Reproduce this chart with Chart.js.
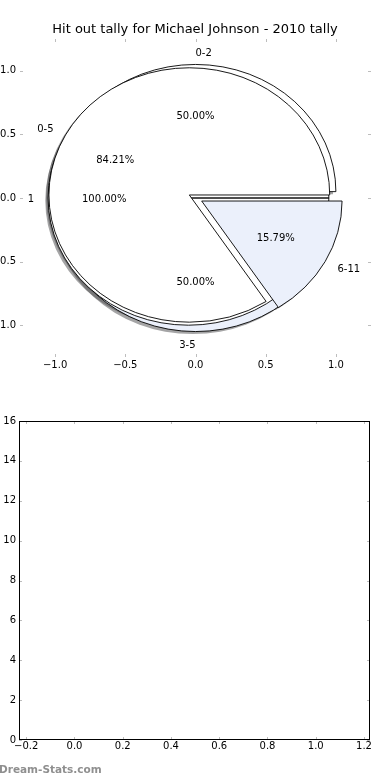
<!DOCTYPE html>
<html>
<head>
<meta charset="utf-8">
<script src="https://cdn.jsdelivr.net/npm/chart.js@4.4.1/dist/chart.umd.min.js"></script>
<style>
html, body { margin: 0; padding: 0; background: #fff; }
#wrap { position: relative; width: 390px; height: 780px; overflow: hidden; }
canvas { position: absolute; left: 0; }
#pieChart { top: 0; }
#emptyChart { top: 390px; }
#mark { position: absolute; left: -1px; top: 763px; font: bold 10.5px "DejaVu Sans"; color: #8f8f8f; }
</style>
</head>
<body>
<div id="wrap">
  <canvas id="pieChart" width="390" height="390"></canvas>
  <canvas id="emptyChart" width="390" height="390"></canvas>
  <div id="mark">Dream-Stats.com</div>
</div>
<script>
// Data

const chartTitle = 'Hit out tally for Michael Johnson - 2010 tally';

// three pies drawn on top of each other, listed in drawing order
const pieALabels = ['0-2', '3-5'];
const pieAValues = [50, 50];
const pieCLabels = ['1'];
const pieCValues = [100];
const pieBLabels = ['0-5', '6-11'];
const pieBValues = [84.21, 15.79];

const pieTicks = [-1.0, -0.5, 0.0, 0.5, 1.0];
const lowerXTicks = [-0.2, 0.0, 0.2, 0.4, 0.6, 0.8, 1.0, 1.2];
const lowerYTicks = [0, 2, 4, 6, 8, 10, 12, 14, 16];

const wedgeColors = ['#ffffff', '#ebf0fb'];
const explode = 0.05;

Chart.defaults.font.family = 'DejaVu Sans';
Chart.defaults.font.size = 10;
Chart.defaults.color = '#000';

function minusSign(v, digits) {
    return v.toFixed(digits).replace('-', '\u2212');
}

function useTicks(list) {
    return function(scale) {
        scale.ticks = list.map(v => ({ value: v }));
    };
}

// grey tick marks pointing into the plot, on all four sides (matplotlib look)
const innerTicks = {
    id: 'innerTicks',
    afterDraw(chart, args, opts) {
        const ctx = chart.ctx;
        const a = chart.chartArea;
        const xs = chart.scales.x, ys = chart.scales.y;
        ctx.save();
        ctx.strokeStyle = '#bdbdbd';
        ctx.lineWidth = 1;
        ctx.beginPath();
        xs.ticks.forEach(t => {
            const px = Math.round(xs.getPixelForValue(t.value)) + 0.5;
            ctx.moveTo(px, a.top); ctx.lineTo(px, a.top + 3);
            ctx.moveTo(px, a.bottom); ctx.lineTo(px, a.bottom - 3);
        });
        ys.ticks.forEach(t => {
            const py = Math.round(ys.getPixelForValue(t.value)) + 0.5;
            ctx.moveTo(a.left, py); ctx.lineTo(a.left + 3, py);
            ctx.moveTo(a.right, py); ctx.lineTo(a.right - 3, py);
        });
        ctx.stroke();
        if (opts.frame) {
            ctx.strokeStyle = '#000';
            ctx.strokeRect(a.left + 0.5, a.top + 0.5, a.right - a.left - 1, a.bottom - a.top - 1);
        }
        ctx.restore();
    }
};

// the pies, drawn through the x/y scales so the ellipse follows the axes
const overlaidPies = {
    id: 'overlaidPies',
    afterDatasetsDraw(chart) {
        const ctx = chart.ctx;
        const xs = chart.scales.x, ys = chart.scales.y;
        const pies = [
            { labels: pieALabels, values: pieAValues },
            { labels: pieCLabels, values: pieCValues },
            { labels: pieBLabels, values: pieBValues }
        ];
        const wedges = [];
        const texts = [];
        pies.forEach(pie => {
            const total = pie.values.reduce((s, v) => s + v, 0);
            let theta1 = 0;
            pie.values.forEach((v, i) => {
                const frac = v / total;
                const theta2 = theta1 + frac;
                const thetam = 2 * Math.PI * 0.5 * (theta1 + theta2);
                const cx = explode * Math.cos(thetam);
                const cy = explode * Math.sin(thetam);
                wedges.push({ cx, cy, t1: theta1 * 2 * Math.PI, t2: theta2 * 2 * Math.PI, color: wedgeColors[i % wedgeColors.length] });
                const xt = cx + 1.1 * Math.cos(thetam);
                texts.push({ x: xt, y: cy + 1.1 * Math.sin(thetam), s: pie.labels[i], align: xt > 0 ? 'left' : 'right' });
                texts.push({ x: cx + 0.6 * Math.cos(thetam), y: cy + 0.6 * Math.sin(thetam), s: (100 * frac).toFixed(2) + '%', align: 'center' });
                theta1 = theta2;
            });
        });

        const rx = xs.getPixelForValue(1) - xs.getPixelForValue(0);
        const ry = ys.getPixelForValue(0) - ys.getPixelForValue(1);
        const path = (w, dx, dy) => {
            const px = xs.getPixelForValue(w.cx + dx), py = ys.getPixelForValue(w.cy + dy);
            ctx.beginPath();
            ctx.moveTo(px, py);
            ctx.ellipse(px, py, rx, ry, 0, -w.t1, -w.t2, true);
            ctx.closePath();
        };

        ctx.save();
        // shadows sit underneath every wedge
        wedges.forEach(w => {
            path(w, -0.02, -0.02);
            ctx.fillStyle = 'rgba(75, 76, 78, 0.5)';
            ctx.fill();
        });
        wedges.forEach(w => {
            path(w, 0, 0);
            ctx.fillStyle = w.color;
            ctx.fill();
            ctx.strokeStyle = '#000';
            ctx.lineWidth = 0.9;
            ctx.stroke();
        });
        ctx.fillStyle = '#000';
        ctx.font = '10px "DejaVu Sans"';
        ctx.textBaseline = 'middle';
        texts.forEach(t => {
            ctx.textAlign = t.align;
            ctx.fillText(t.s, xs.getPixelForValue(t.x), ys.getPixelForValue(t.y) + 1.5);
        });
        ctx.restore();
    }
};

new Chart(document.getElementById('pieChart'), {
    type: 'scatter',
    data: { datasets: [{ data: [] }] },
    plugins: [overlaidPies, innerTicks],
    options: {
        responsive: false,
        animation: false,
        events: [],
        layout: { padding: 0 },
        plugins: {
            legend: { display: false },
            tooltip: { enabled: false },
            title: {
                display: true,
                text: chartTitle,
                color: '#000',
                font: { size: 13, weight: 'normal' },
                padding: { top: 22, bottom: 1.4 }
            },
            innerTicks: { frame: false }
        },
        scales: {
            x: {
                min: -1.25, max: 1.25,
                afterBuildTicks: useTicks(pieTicks),
                afterFit(scale) { scale.height = 33; },
                grid: { display: false, drawTicks: false },
                border: { display: false },
                ticks: { padding: 2, maxRotation: 0, callback: v => minusSign(v, 1) }
            },
            y: {
                min: -1.25, max: 1.25,
                afterBuildTicks: useTicks(pieTicks),
                afterFit(scale) { scale.width = 20; },
                grid: { display: false, drawTicks: false },
                border: { display: false },
                ticks: { padding: 4, callback: v => minusSign(v, 1) }
            },
            // empty right-hand strip so the title centres over the whole figure
            yRight: {
                position: 'right',
                min: -1.25, max: 1.25,
                afterFit(scale) { scale.width = 19; },
                grid: { display: false, drawTicks: false },
                border: { display: false },
                ticks: { display: false }
            }
        }
    }
});

new Chart(document.getElementById('emptyChart'), {
    type: 'scatter',
    data: { datasets: [{ data: [] }] },
    plugins: [innerTicks],
    options: {
        responsive: false,
        animation: false,
        events: [],
        layout: { padding: { left: 0, right: 20, top: 31, bottom: 0 } },
        plugins: {
            legend: { display: false },
            tooltip: { enabled: false },
            innerTicks: { frame: true }
        },
        scales: {
            x: {
                min: -0.23, max: 1.225,
                afterBuildTicks: useTicks(lowerXTicks),
                afterFit(scale) { scale.height = 40; },
                grid: { display: false, drawTicks: false },
                border: { display: false },
                ticks: { padding: 0, maxRotation: 0, callback: v => minusSign(v, 1) }
            },
            y: {
                min: 0, max: 16,
                afterBuildTicks: useTicks(lowerYTicks),
                afterFit(scale) { scale.width = 19; },
                grid: { display: false, drawTicks: false },
                border: { display: false },
                ticks: { padding: 3, callback: v => String(v) }
            }
        }
    }
});
</script>
</body>
</html>
